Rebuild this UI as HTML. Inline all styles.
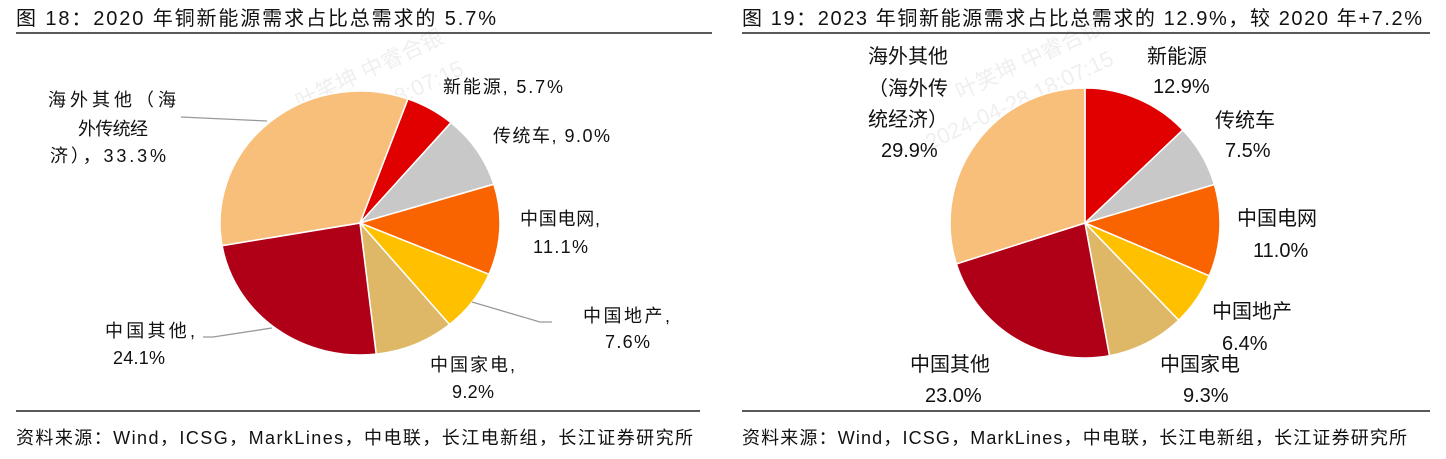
<!DOCTYPE html>
<html><head><meta charset="utf-8"><style>
body{margin:0;background:#fff;}
svg text{font-family:"Liberation Sans","Noto Sans CJK SC",sans-serif;fill:#111;}
</style></head><body>
<svg width="1446" height="454" viewBox="0 0 1446 454">
<g fill="#000" opacity="0.07">
<text x="300" y="110" font-size="22" transform="rotate(-25 300 110)">叶笑坤 中睿合银</text>
<text x="280" y="160" font-size="22" transform="rotate(-25 280 160)">2024-04-28 18:07:15</text>
<text x="960" y="100" font-size="22" transform="rotate(-25 960 100)">叶笑坤 中睿合银</text>
<text x="930" y="150" font-size="22" transform="rotate(-25 930 150)">2024-04-28 18:07:15</text>
</g>
<text x="16" y="25" font-size="20" textLength="480" lengthAdjust="spacing">图  18：2020 年铜新能源需求占比总需求的 5.7%</text>
<line x1="16" y1="33" x2="712" y2="33" stroke="#222" stroke-width="1.5"/>
<line x1="16" y1="411" x2="700" y2="411" stroke="#222" stroke-width="1.5"/>
<text x="16" y="444" font-size="18" textLength="677" lengthAdjust="spacing">资料来源：Wind，ICSG，MarkLines，中电联，长江电新组，长江证券研究所</text>
<text x="742" y="25" font-size="20" textLength="680" lengthAdjust="spacing">图  19：2023 年铜新能源需求占比总需求的 12.9%，较 2020 年+7.2%</text>
<line x1="742" y1="33" x2="1430" y2="33" stroke="#222" stroke-width="1.5"/>
<line x1="742" y1="411" x2="1430" y2="411" stroke="#222" stroke-width="1.5"/>
<text x="742" y="444" font-size="18" textLength="665" lengthAdjust="spacing">资料来源：Wind，ICSG，MarkLines，中电联，长江电新组，长江证券研究所</text>
<g id="pie1"></g>
<g id="pie2"></g>
<g stroke="#999" stroke-width="1.3" fill="none">
<polyline points="181,117 267,121"/>
<polyline points="203,337 213,337 272,328"/>
<polyline points="472,302 540,322 552,322"/>
</g>
<g font-size="18">
<text x="48" y="106" textLength="128">海外其他（海</text>
<text x="78" y="135" textLength="70">外传统经</text>
<text x="50" y="162" textLength="116">济），33.3%</text>
<text x="443" y="93" textLength="120">新能源, 5.7%</text>
<text x="493" y="142" textLength="117">传统车, 9.0%</text>
<text x="520" y="225" textLength="80">中国电网,</text>
<text x="533" y="253" textLength="55">11.1%</text>
<text x="583" y="322" textLength="87">中国地产,</text>
<text x="605" y="348" textLength="45">7.6%</text>
<text x="430" y="371" textLength="85">中国家电,</text>
<text x="452" y="398" textLength="42">9.2%</text>
<text x="105" y="337" textLength="90">中国其他,</text>
<text x="113" y="364" textLength="52">24.1%</text>
</g>
<g font-size="20">
<text x="868" y="63">海外其他</text>
<text x="868" y="95">（海外传</text>
<text x="868" y="126">统经济）</text>
<text x="881" y="157">29.9%</text>
<text x="1147" y="63">新能源</text>
<text x="1153" y="93">12.9%</text>
<text x="1215" y="127">传统车</text>
<text x="1225" y="157">7.5%</text>
<text x="1237" y="225">中国电网</text>
<text x="1253" y="257">11.0%</text>
<text x="1212" y="318">中国地产</text>
<text x="1222" y="350">6.4%</text>
<text x="1160" y="371">中国家电</text>
<text x="1183" y="402">9.3%</text>
<text x="910" y="371">中国其他</text>
<text x="925" y="402">23.0%</text>
</g>
</svg>
<script>
const categories=["新能源","传统车","中国电网","中国地产","中国家电","中国其他","海外其他"];
const values2020=[5.7,9.0,11.1,7.6,9.2,24.1,33.3];
const values2023=[12.9,7.5,11.0,6.4,9.3,23.0,29.9];
const colors=["#e00000","#c8c8c8","#fa6400","#ffc000","#deb767","#b00018","#f8bf7a"];
function drawPie(id,vals,cx,cy,rx,ry,startDeg){
  const g=document.getElementById(id);
  const tot=vals.reduce((a,b)=>a+b,0);
  let a=startDeg*Math.PI/180;
  vals.forEach((v,i)=>{
    const b=a+v/tot*2*Math.PI;
    const x1=cx+rx*Math.sin(a),y1=cy-ry*Math.cos(a);
    const x2=cx+rx*Math.sin(b),y2=cy-ry*Math.cos(b);
    const p=document.createElementNS("http://www.w3.org/2000/svg","path");
    p.setAttribute("d",`M${cx},${cy}L${x1},${y1}A${rx},${ry} 0 ${b-a>Math.PI?1:0} 1 ${x2},${y2}Z`);
    p.setAttribute("fill",colors[i]);
    p.setAttribute("stroke","#fff");
    p.setAttribute("stroke-width","1.5");
    
    
    g.appendChild(p);
    a=b;
  });
}
drawPie("pie1",values2020,360,223,140,132,20);
drawPie("pie2",values2023,1085,223,135,135,0);
</script>
</body></html>
